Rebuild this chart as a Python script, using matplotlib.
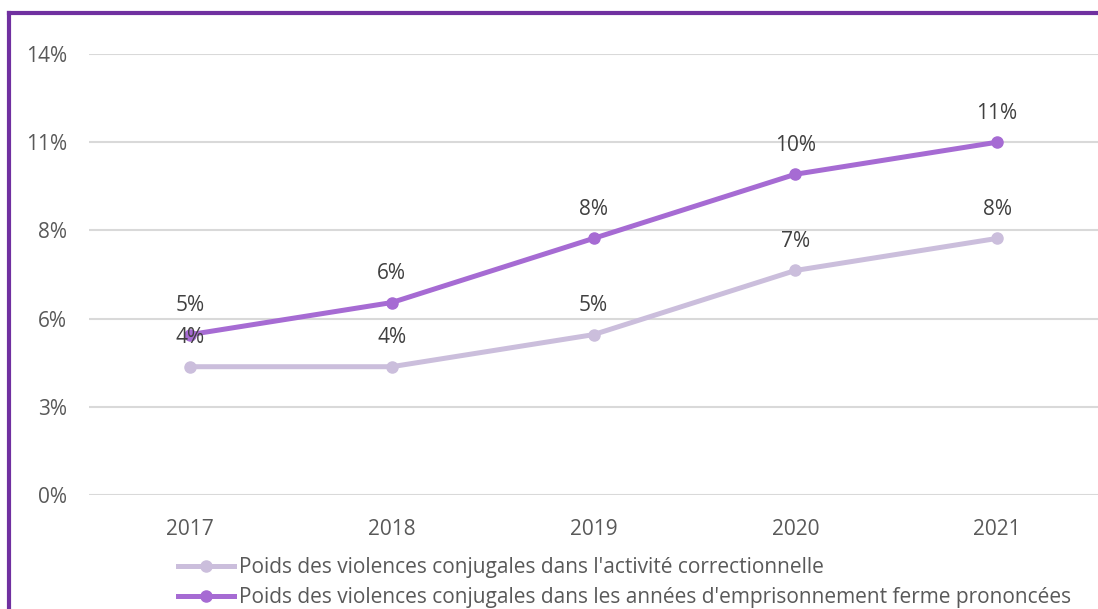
import matplotlib.pyplot as plt
from matplotlib.lines import Line2D

# data
years = ["2017", "2018", "2019", "2020", "2021"]
poids_activite = [4.0, 4.0, 5.0, 7.0, 8.0]
poids_emprisonnement = [5.0, 6.0, 8.0, 10.0, 11.0]
labels_activite = ["4%", "4%", "5%", "7%", "8%"]
labels_emprisonnement = ["5%", "6%", "8%", "10%", "11%"]
serie_names = [
    "Poids des violences conjugales dans l'activité correctionnelle",
    "Poids des violences conjugales dans les années d'emprisonnement ferme prononcées",
]
y_ticks = [0, 2.75, 5.5, 8.25, 11, 13.75]
y_ticklabels = ["0%", "3%", "6%", "8%", "11%", "14%"]

light = "#CBBEDC"
dark = "#A66BD3"
border = "#7030A0"
txt = "#595959"
fs = 15

plt.rcParams["font.family"] = ["Open Sans", "DejaVu Sans"]

W, H = 1098, 609
fig = plt.figure(figsize=(W / 100, H / 100), dpi=100)
ax = fig.add_axes([89 / W, 114 / H, 1009 / W, 441 / H])

x = list(range(len(years)))
for vals, labs, col in [(poids_activite, labels_activite, light),
                        (poids_emprisonnement, labels_emprisonnement, dark)]:
    ax.plot(x, vals, color=col, lw=3.6, marker="o", ms=8, zorder=3,
            solid_capstyle="round")
    for xi, v, lab in zip(x, vals, labs):
        ax.annotate(lab, (xi, v), xytext=(0, 21), textcoords="offset points",
                    ha="center", va="center", fontsize=fs, color="#404040",
                    zorder=4)

ax.set_xlim(-0.5, 4.5)
ax.set_ylim(0, 13.75)
ax.set_xticks(x)
ax.set_xticklabels(years)
ax.set_yticks(y_ticks)
ax.set_yticklabels(y_ticklabels)
ax.tick_params(axis="both", length=0, labelsize=fs, labelcolor=txt)
ax.tick_params(axis="y", pad=16)
ax.tick_params(axis="x", pad=17)
ax.grid(axis="y", color="#D9D9D9", lw=1.5)
ax.set_axisbelow(True)
for s in ax.spines.values():
    s.set_visible(False)

handles = [Line2D([], [], color=light, lw=3.6, marker="o", ms=8),
           Line2D([], [], color=dark, lw=3.6, marker="o", ms=8)]
fig.legend(handles, serie_names, loc="upper left",
           bbox_to_anchor=(170 / W, 1 - 549 / H), frameon=False,
           fontsize=fs, labelcolor=txt, handlelength=2.65,
           handletextpad=0.25, labelspacing=0.42, borderaxespad=0)

# purple frame on the left and top edges
fig.add_artist(Line2D([9 / W, 9 / W], [0, 1 - 13 / H], color=border, lw=3,
                      transform=fig.transFigure))
fig.add_artist(Line2D([9 / W, 1], [1 - 13 / H, 1 - 13 / H], color=border,
                      lw=3, transform=fig.transFigure))

fig.savefig("out.png", dpi=100)
